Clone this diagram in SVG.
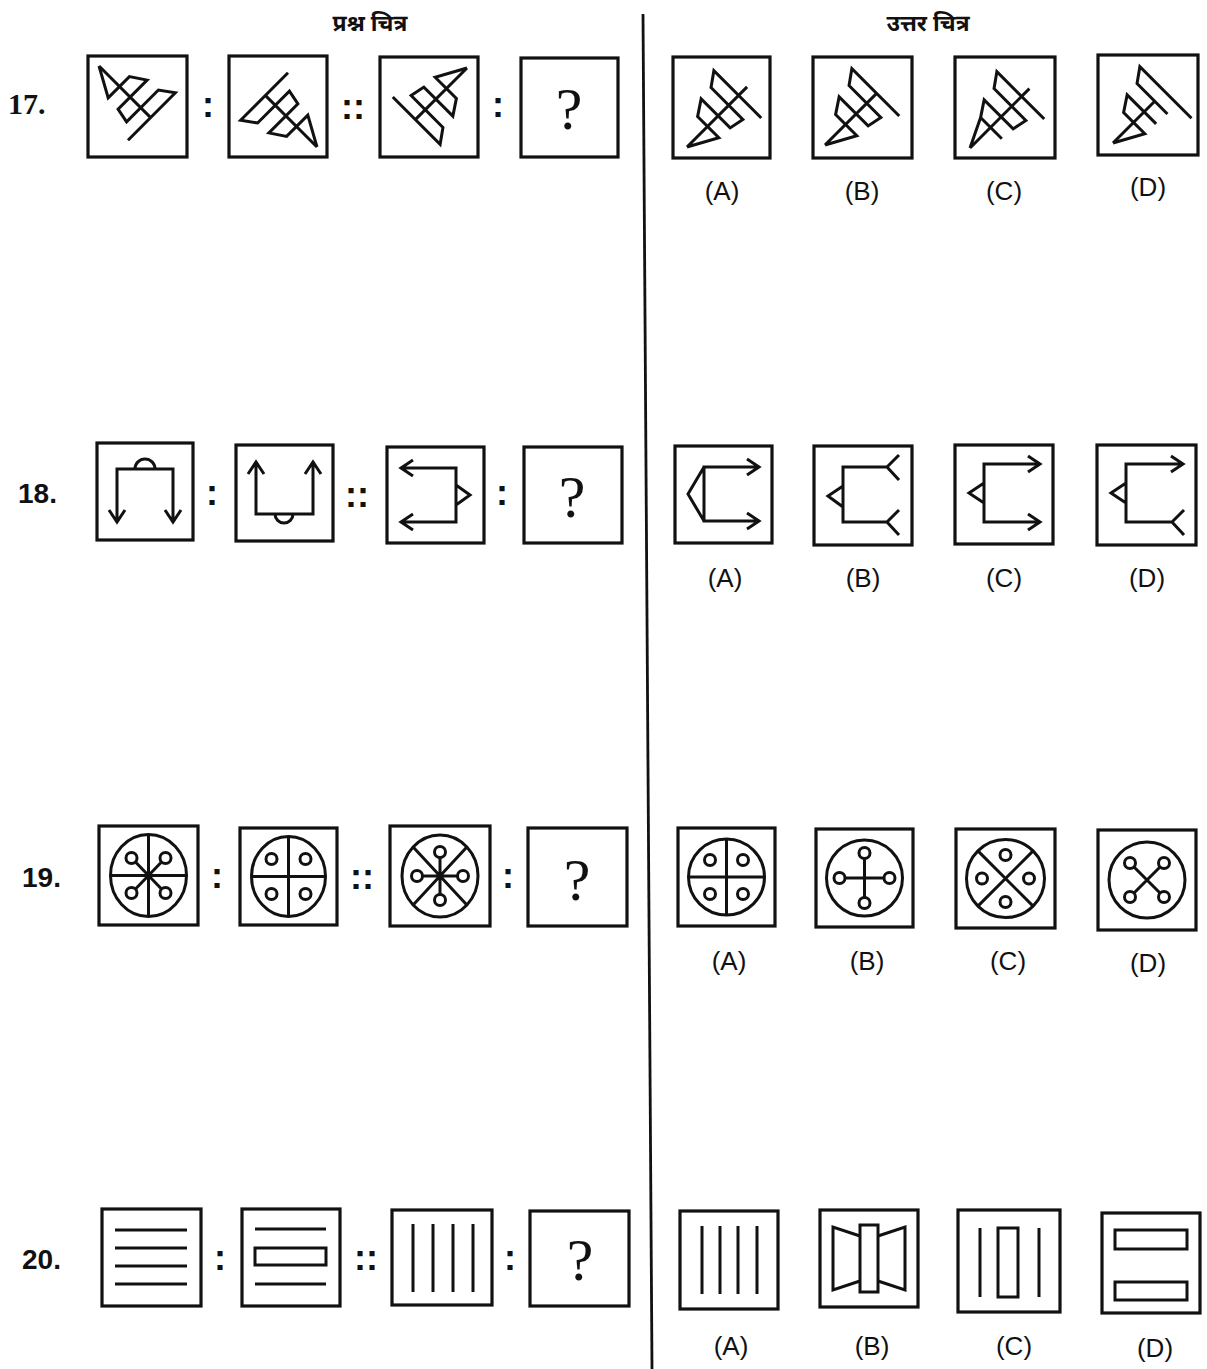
<svg xmlns="http://www.w3.org/2000/svg" width="1207" height="1369" viewBox="0 0 1207 1369">
<style>
.box{fill:none;stroke:#111;stroke-width:3.2}
.fig{fill:none;stroke:#111;stroke-width:3;stroke-linejoin:miter;stroke-linecap:butt}
.lbl{font-family:"Liberation Sans",Arial,sans-serif;font-size:26px;fill:#111;text-anchor:middle}
.qm{font-family:"Liberation Serif","Times New Roman",serif;font-size:60px;fill:#111;text-anchor:middle}
.sep{font-family:"Liberation Sans",Arial,sans-serif;font-size:36px;font-weight:bold;fill:#111;text-anchor:middle}
.num{font-family:"Liberation Sans",Arial,sans-serif;font-size:28px;font-weight:bold;fill:#111}
.numS{font-family:"Liberation Serif","Times New Roman",serif;font-size:30px;font-weight:bold;fill:#111}
.hd{font-family:"Noto Sans Devanagari","Noto Sans","Noto Serif Devanagari",sans-serif;font-size:23px;font-weight:bold;fill:#111;text-anchor:middle}
</style>
<defs>
<path id="f17" class="fig" d="M0,0 L72,0 M0,0 L29,16 L29,-14 L44,-24 L44,17 L59,20 L59,-25 L73,-35 L73,32"/>
<path id="f17a" class="fig" d="M0,0 L85,0 M0,0 L29,16 L29,-14 L44,-24 L44,17 L59,20 L59,-25 L73,-35 L73,32"/>
<path id="f17c" class="fig" d="M0,0 L84,0 M0,0 L29,-14 M29,16 L29,-14 L44,-24 L44,17 L59,20 L59,-25 L73,-35 L73,32"/>
<path id="f17d" class="fig" d="M0,0 L59,0 M0,0 L29,16 L29,-14 L44,-24 L44,17 M59,18 L59,-25 L73,-35 L73,38"/>
</defs>
<rect width="1207" height="1369" fill="#fff"/>

<g id="divider"><line x1="643" y1="14" x2="652" y2="1369" stroke="#111" stroke-width="2.8"/></g>
<g id="headers">
<text class="hd" x="370" y="31">प्रश्न चित्र</text>
<text class="hd" x="928" y="31">उत्तर चित्र</text>
</g>
<g id="connectors"/>

<!-- Row 17 -->
<g id="row17">
<text class="numS" x="8" y="114">17.</text>
<g id="q17-1"><rect class="box" x="88" y="56" width="99" height="101"/><use href="#f17" transform="matrix(0.7071,0.7071,-0.7071,0.7071,99,66)"/></g>
<text class="sep" x="208" y="117">:</text>
<g id="q17-2"><rect class="box" x="229" y="56" width="98" height="101"/><use href="#f17" transform="matrix(-0.7071,-0.7071,0.7071,-0.7071,317,147)"/></g>
<text class="sep" x="353" y="119">::</text>
<g id="q17-3"><rect class="box" x="380" y="57" width="98" height="100"/><use href="#f17" transform="matrix(-0.7071,0.7071,-0.7071,-0.7071,467,68)"/></g>
<text class="sep" x="498" y="117">:</text>
<g id="q17-4"><rect class="box" x="521" y="58" width="97" height="99"/><text class="qm" x="569" y="129">?</text></g>
<g id="a17-a"><rect class="box" x="673" y="57" width="97" height="101"/><use href="#f17a" transform="matrix(0.7071,-0.7071,0.7071,0.7071,687,147)"/></g>
<g id="a17-b"><rect class="box" x="813" y="57" width="99" height="101"/><use href="#f17" transform="matrix(0.7071,-0.7071,0.7071,0.7071,825,145)"/></g>
<g id="a17-c"><rect class="box" x="955" y="57" width="100" height="101"/><use href="#f17c" transform="matrix(0.7071,-0.7071,0.7071,0.7071,970,148)"/></g>
<g id="a17-d"><rect class="box" x="1098" y="55" width="100" height="100"/><use href="#f17d" transform="matrix(0.7071,-0.7071,0.7071,0.7071,1113,143)"/></g>
<text class="lbl" x="722" y="200">(A)</text>
<text class="lbl" x="862" y="200">(B)</text>
<text class="lbl" x="1004" y="200">(C)</text>
<text class="lbl" x="1148" y="196">(D)</text>
</g>

<!-- Row 18 -->
<g id="row18">
<text class="num" x="18" y="503">18.</text>
<g id="q18-1"><rect class="box" x="97" y="443" width="96" height="97"/>
<path class="fig" d="M117,522 L117,469 L173,469 L173,522 M135,469 A10,10 0 0 1 155,469 M109,510 L117,522 L125,510 M165,510 L173,522 L181,510"/></g>
<text class="sep" x="212" y="505">:</text>
<g id="q18-2"><rect class="box" x="236" y="445" width="97" height="96"/>
<path class="fig" d="M256,462 L256,514 L313,514 L313,462 M275,514 A9,9 0 0 0 293,514 M248,474 L256,462 L264,474 M305,474 L313,462 L321,474"/></g>
<text class="sep" x="357" y="507">::</text>
<g id="q18-3"><rect class="box" x="387" y="447" width="97" height="96"/>
<path class="fig" d="M401,468 L456,468 L456,522 L401,522 M413,460 L401,468 L413,476 M413,514 L401,522 L413,530 M456,485 L470,495 L456,505"/></g>
<text class="sep" x="502" y="505">:</text>
<g id="q18-4"><rect class="box" x="524" y="447" width="98" height="96"/><text class="qm" x="572" y="517">?</text></g>
<g id="a18-a"><rect class="box" x="675" y="446" width="97" height="97"/>
<path class="fig" d="M759,467 L704,467 L704,521 L759,521 M747,459 L759,467 L747,475 M747,513 L759,521 L747,529 M704,467 L688,494 L704,521"/></g>
<g id="a18-b"><rect class="box" x="814" y="446" width="98" height="99"/>
<path class="fig" d="M887,467 L843,467 L843,522 L887,522 M899,455 L887,467 L899,480 M899,510 L887,522 L899,535 M843,486 L828,496 L843,507"/></g>
<g id="a18-c"><rect class="box" x="955" y="445" width="98" height="99"/>
<path class="fig" d="M1040,464 L984,464 L984,522 L1040,522 M1028,456 L1040,464 L1028,472 M1028,514 L1040,522 L1028,530 M984,483 L969,493 L984,503"/></g>
<g id="a18-d"><rect class="box" x="1097" y="445" width="99" height="100"/>
<path class="fig" d="M1183,464 L1126,464 L1126,522 L1172,522 M1171,456 L1183,464 L1171,472 M1184,510 L1172,522 L1184,535 M1126,483 L1111,493 L1126,503"/></g>
<text class="lbl" x="725" y="587">(A)</text>
<text class="lbl" x="863" y="587">(B)</text>
<text class="lbl" x="1004" y="587">(C)</text>
<text class="lbl" x="1147" y="587">(D)</text>
</g>

<!-- Row 19 -->
<g id="row19">
<text class="num" x="22" y="887">19.</text>
<g id="q19-1"><rect class="box" x="99" y="826" width="99" height="99"/>
<ellipse class="fig" cx="148.5" cy="875.5" rx="38" ry="41"/>
<path class="fig" d="M110.5,875.5 H186.5 M148.5,834.5 V916.5 M148.5,875.5 L135,861.5 M148.5,875.5 L162,861.5 M148.5,875.5 L135,889.5 M148.5,875.5 L162,889.5"/>
<circle class="fig" cx="131.5" cy="858" r="5.5"/><circle class="fig" cx="165.5" cy="858" r="5.5"/><circle class="fig" cx="131.5" cy="893" r="5.5"/><circle class="fig" cx="165.5" cy="893" r="5.5"/></g>
<text class="sep" x="217" y="888">:</text>
<g id="q19-2"><rect class="box" x="240" y="828" width="97" height="97"/>
<ellipse class="fig" cx="288.5" cy="876.5" rx="37" ry="40"/>
<path class="fig" d="M251.5,876.5 H325.5 M288.5,836.5 V916.5"/>
<circle class="fig" cx="271.5" cy="859" r="5.5"/><circle class="fig" cx="305.5" cy="859" r="5.5"/><circle class="fig" cx="271.5" cy="894" r="5.5"/><circle class="fig" cx="305.5" cy="894" r="5.5"/></g>
<text class="sep" x="362" y="889">::</text>
<g id="q19-3"><rect class="box" x="390" y="826" width="100" height="100"/>
<ellipse class="fig" cx="440" cy="876" rx="38" ry="41"/>
<path class="fig" d="M413.1,847 L466.9,905 M466.9,847 L413.1,905 M440,876 V857 M440,876 V895 M440,876 H422 M440,876 H458"/>
<circle class="fig" cx="440" cy="852" r="5.5"/><circle class="fig" cx="440" cy="900" r="5.5"/><circle class="fig" cx="417" cy="876" r="5.5"/><circle class="fig" cx="463" cy="876" r="5.5"/></g>
<text class="sep" x="508" y="888">:</text>
<g id="q19-4"><rect class="box" x="528" y="828" width="99" height="98"/><text class="qm" x="577" y="900">?</text></g>
<g id="a19-a"><rect class="box" x="678" y="828" width="97" height="98"/>
<circle class="fig" cx="726.5" cy="877" r="38"/>
<path class="fig" d="M688.5,877 H764.5 M726.5,839 V915"/>
<circle class="fig" cx="710" cy="860" r="5.5"/><circle class="fig" cx="743" cy="860" r="5.5"/><circle class="fig" cx="710" cy="894" r="5.5"/><circle class="fig" cx="743" cy="894" r="5.5"/></g>
<g id="a19-b"><rect class="box" x="816" y="829" width="97" height="98"/>
<circle class="fig" cx="864.5" cy="878" r="38"/>
<path class="fig" d="M864.5,858 V898 M844.5,878 H884.5"/>
<circle class="fig" cx="864.5" cy="853" r="5.5"/><circle class="fig" cx="864.5" cy="903" r="5.5"/><circle class="fig" cx="839.5" cy="878" r="5.5"/><circle class="fig" cx="889.5" cy="878" r="5.5"/></g>
<g id="a19-c"><rect class="box" x="956" y="829" width="99" height="99"/>
<circle class="fig" cx="1005.5" cy="878.5" r="39"/>
<path class="fig" d="M977.9,850.9 L1033.1,906.1 M1033.1,850.9 L977.9,906.1"/>
<circle class="fig" cx="1005.5" cy="855" r="5.5"/><circle class="fig" cx="1005.5" cy="902" r="5.5"/><circle class="fig" cx="982" cy="878.5" r="5.5"/><circle class="fig" cx="1029" cy="878.5" r="5.5"/></g>
<g id="a19-d"><rect class="box" x="1098" y="830" width="98" height="100"/>
<circle class="fig" cx="1147" cy="880" r="38"/>
<path class="fig" d="M1147,880 L1133.5,866.5 M1147,880 L1160.5,866.5 M1147,880 L1133.5,893.5 M1147,880 L1160.5,893.5"/>
<circle class="fig" cx="1130" cy="863" r="5.5"/><circle class="fig" cx="1164" cy="863" r="5.5"/><circle class="fig" cx="1130" cy="897" r="5.5"/><circle class="fig" cx="1164" cy="897" r="5.5"/></g>
<text class="lbl" x="729" y="970">(A)</text>
<text class="lbl" x="867" y="970">(B)</text>
<text class="lbl" x="1008" y="970">(C)</text>
<text class="lbl" x="1148" y="972">(D)</text>
</g>

<!-- Row 20 -->
<g id="row20">
<text class="num" x="22" y="1269">20.</text>
<g id="q20-1"><rect class="box" x="102" y="1209" width="99" height="97"/>
<path class="fig" stroke-width="3.2" d="M115,1230 H187 M115,1248 H187 M115,1266 H187 M115,1284 H187"/></g>
<text class="sep" x="220" y="1270">:</text>
<g id="q20-2"><rect class="box" x="242" y="1209" width="98" height="97"/>
<path class="fig" stroke-width="3.2" d="M255,1229 H326 M255,1284 H326"/><rect class="fig" stroke-width="3.2" x="255" y="1248" width="71" height="17"/></g>
<text class="sep" x="366" y="1270">::</text>
<g id="q20-3"><rect class="box" x="392" y="1210" width="100" height="95"/>
<path class="fig" stroke-width="3.2" d="M413,1224 V1292 M433,1224 V1292 M453,1224 V1292 M473,1224 V1292"/></g>
<text class="sep" x="510" y="1270">:</text>
<g id="q20-4"><rect class="box" x="530" y="1211" width="99" height="95"/><text class="qm" x="580" y="1280">?</text></g>
<g id="a20-a"><rect class="box" x="680" y="1211" width="98" height="98"/>
<path class="fig" stroke-width="3.2" d="M702,1226 V1294 M720,1226 V1294 M738,1226 V1294 M757,1226 V1294"/></g>
<g id="a20-b"><rect class="box" x="820" y="1210" width="98" height="97"/>
<rect class="fig" stroke-width="3.2" x="860" y="1225" width="18" height="67"/>
<path class="fig" stroke-width="3.2" d="M860,1236 L833,1227 L833,1290 L860,1281 M878,1236 L905,1227 L905,1290 L878,1281"/></g>
<g id="a20-c"><rect class="box" x="958" y="1210" width="102" height="102"/>
<path class="fig" stroke-width="3.2" d="M980,1228 V1297 M1039,1228 V1297"/><rect class="fig" stroke-width="3.2" x="998" y="1228" width="20" height="69"/></g>
<g id="a20-d"><rect class="box" x="1102" y="1213" width="98" height="100"/>
<rect class="fig" stroke-width="3.2" x="1115" y="1230" width="72" height="19"/><rect class="fig" stroke-width="3.2" x="1115" y="1282" width="72" height="18"/></g>
<text class="lbl" x="731" y="1355">(A)</text>
<text class="lbl" x="872" y="1355">(B)</text>
<text class="lbl" x="1014" y="1355">(C)</text>
<text class="lbl" x="1155" y="1357">(D)</text>
</g>
</svg>
